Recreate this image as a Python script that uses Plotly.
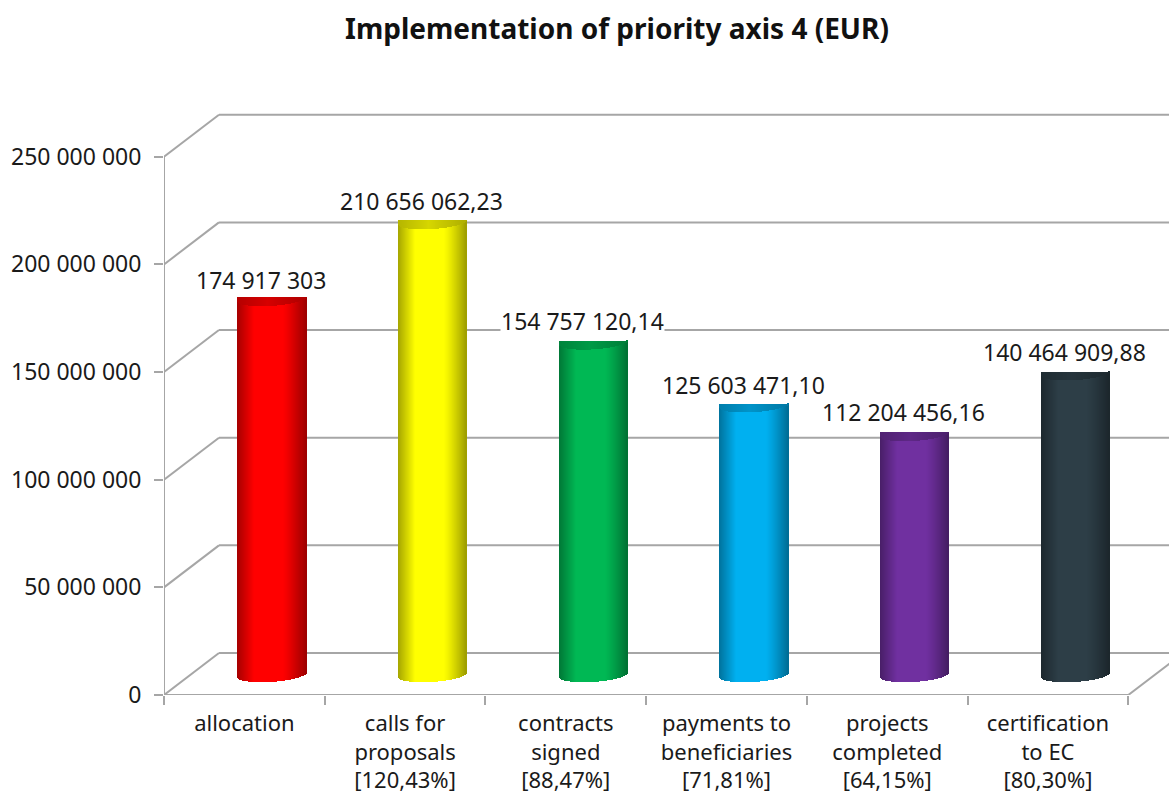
import numpy as np
import plotly.graph_objects as go

# ---- data ----
categories = ["allocation", "calls for<br>proposals<br>[120,43%]", "contracts<br>signed<br>[88,47%]",
              "payments to<br>beneficiaries<br>[71,81%]", "projects<br>completed<br>[64,15%]",
              "certification<br>to EC<br>[80,30%]"]
values = [174917303, 210656062.23, 154757120.14, 125603471.10, 112204456.16, 140464909.88]
value_labels = ["174 917 303", "210 656 062,23", "154 757 120,14",
                "125 603 471,10", "112 204 456,16", "140 464 909,88"]
y_ticks = [0, 50000000, 100000000, 150000000, 200000000, 250000000]
y_tick_labels = ["0", "50 000 000", "100 000 000", "150 000 000", "200 000 000", "250 000 000"]
bar_colors = [(255, 0, 0), (255, 255, 0), (0, 184, 84), (0, 176, 240), (112, 48, 160), (45, 62, 71)]
label_shift_px = [0, 2, 3, 2, 3, 3]

# ---- geometry of the pseudo-3D frame ----
W, H = 1169, 796
PX_X, PX_Y = 160.8, 2.153e-6           # pixels per category, pixels per EUR
LEFT, BOTTOM = 163.5, 101
DX, DY = 55 / PX_X, 42 / PX_Y          # depth of the box in data units
x_top = (W - LEFT) / PX_X
y_top = (H - BOTTOM) / PX_Y
GRID = "#a6a6a6"
FONT = "Noto Sans"
STRIPS = 68
BAR_W = 68.4 / PX_X
RIM_B, RIM_S = 7 / PX_Y, 2.2 / PX_Y    # ellipse half-height and tilt


def shade(rgb, t):
    if t < -0.5:
        f = 1 - 0.35 * (-0.5 - t) / 0.5
    elif t > 0.35:
        f = 1 - 0.38 * ((t - 0.35) / 0.65) ** 1.2
    else:
        f = 1.0
    return "rgb(%d,%d,%d)" % tuple(int(c * f) for c in rgb)


def cap(rgb, t):
    f = 0.84 - 0.14 * abs(t + 0.1)
    return "rgb(%d,%d,%d)" % tuple(int(c * f) for c in rgb)


xs, body_base, body_h, body_col, cap_base, cap_h, cap_col = [], [], [], [], [], [], []
for i, v in enumerate(values):
    cx = i + 0.5 + DX / 2
    top = v + DY / 2
    low = DY / 2
    for s in range(STRIPS):
        t = (s + 0.5) / STRIPS * 2 - 1
        curve = RIM_B * np.sqrt(1 - t * t) - RIM_S * t
        xs.append(cx + t * BAR_W / 2)
        cap_low = top - max(curve + 1.5 / PX_Y, 0)
        body_base.append(low - curve - 0.4e6)
        body_h.append(cap_low - (low - curve - 0.4e6))
        body_col.append(shade(bar_colors[i], t))
        cap_base.append(cap_low)
        cap_h.append(top - cap_low)
        cap_col.append(cap(bar_colors[i], t))

strip_w = BAR_W / STRIPS

fig = go.Figure()
fig.add_trace(go.Bar(x=xs, y=body_h, base=body_base, width=strip_w * 1.02,
                     marker=dict(color=body_col, line=dict(width=0)), showlegend=False, hoverinfo="skip"))
fig.add_trace(go.Bar(x=xs, y=cap_h, base=cap_base, width=strip_w * 1.02,
                     marker=dict(color=cap_col, line=dict(width=0)), showlegend=False, hoverinfo="skip"))

shapes = []


def seg(x0, y0, x1, y1):
    shapes.append(dict(type="line", xref="x", yref="y", x0=x0, y0=y0, x1=x1, y1=y1,
                       line=dict(color=GRID, width=2), layer="below"))


for v in y_ticks:
    seg(0, v, DX, v + DY)
    seg(DX, v + DY, x_top + 1, v + DY)
seg(0, 0, 0, y_ticks[-1])
seg(0, 0, len(categories), 0)
seg(len(categories), 0, len(categories) + DX, DY)

annotations = []
for i, (v, lab) in enumerate(zip(values, value_labels)):
    annotations.append(dict(x=i + 0.5 + 16.5 / PX_X, y=v + DY / 2, xref="x", yref="y", text=lab, showarrow=False,
                            xanchor="center", yanchor="bottom", yshift=label_shift_px[i], bgcolor="white",
                            borderpad=0, font=dict(family=FONT, size=23, color="#1a1a1a")))

fig.update_layout(
    width=W, height=H, margin=dict(l=LEFT, r=0, t=0, b=BOTTOM, autoexpand=False),
    paper_bgcolor="white", plot_bgcolor="white", barmode="overlay", bargap=0, showlegend=False,
    shapes=shapes, annotations=annotations,
    title=dict(text="<b>Implementation of priority axis 4 (EUR)</b>", x=617 / W, xanchor="center",
               y=1 - 29 / H, yanchor="middle", font=dict(family=FONT, size=28, color="#111111")),
    xaxis=dict(range=[0, x_top], tickmode="array", tickvals=[i + 0.5 for i in range(len(categories))],
               ticktext=categories, ticks="", showgrid=False, zeroline=False, showline=False,
               tickangle=0, ticklabelstandoff=13,
               tickfont=dict(family=FONT, size=22, color="#1a1a1a"),
               minor=dict(tickmode="array", tickvals=list(range(len(categories) + 1)), ticks="outside",
                          ticklen=9, tickwidth=2, tickcolor=GRID, showgrid=False)),
    yaxis=dict(range=[0, y_top], tickmode="array", tickvals=y_ticks, ticktext=y_tick_labels, ticks="outside",
               ticklen=9, tickwidth=2, tickcolor=GRID, showgrid=False, zeroline=False, showline=False,
               ticklabelstandoff=8,
               tickfont=dict(family=FONT, size=23, color="#1a1a1a")),
)

fig.write_html("out.html", post_script="document.body.style.margin='0';", config={"displayModeBar": False})
